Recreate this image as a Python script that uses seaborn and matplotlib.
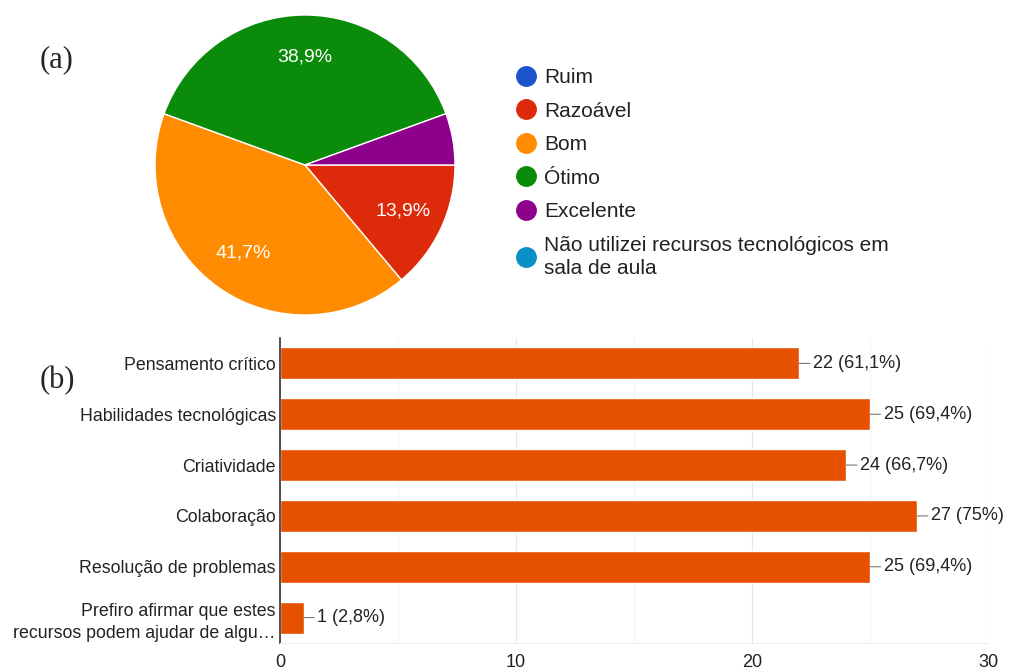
import matplotlib
matplotlib.use("Agg")
import matplotlib.pyplot as plt
from matplotlib.lines import Line2D
import seaborn as sns
import pandas as pd

# pie data (a)
pie_labels = ["Ruim", "Razoável", "Bom", "Ótimo", "Excelente",
              "Não utilizei recursos tecnológicos em\nsala de aula"]
pie_counts = [0, 5, 15, 14, 2, 0]
pie_colors = ["#1a53cc", "#dc2a0a", "#ff8c00", "#0a8c0a", "#8c008c", "#0a90c6"]

# bar data (b)
bar_labels = ["Pensamento crítico", "Habilidades tecnológicas", "Criatividade",
              "Colaboração", "Resolução de problemas",
              "Prefiro afirmar que estes\nrecursos podem ajudar de algu…"]
bar_counts = [22, 25, 24, 27, 25, 1]
bar_pct = ["61,1%", "69,4%", "66,7%", "75%", "69,4%", "2,8%"]
x_ticks = [0, 10, 20, 30]

sns.set_style("white")
plt.rcParams['font.family'] = ['Liberation Sans', 'DejaVu Sans']

W, H = 1009, 671
fig = plt.figure(figsize=(W / 100, H / 100), dpi=100)

# --- pie ---
ax_pie = fig.add_axes([155 / W, (H - 315) / H, 300 / W, 300 / H])
nz = [(c, col) for c, col in zip(pie_counts, pie_colors) if c > 0]
wedges, _, autotexts = ax_pie.pie(
    [c for c, _ in nz], colors=[col for _, col in nz],
    startangle=0, counterclock=False,
    autopct=lambda p: (f"{p:.1f}%".replace(".", ",") if p >= 10 else ""),
    pctdistance=0.72,
    wedgeprops=dict(edgecolor="white", linewidth=1),
    textprops=dict(color="white", fontsize=14))
ax_pie.set_xlim(-1.0, 1.0)
ax_pie.set_ylim(-1.0, 1.0)
ax_pie.set_aspect("equal")

handles = [Line2D([0], [0], marker="o", linestyle="", markersize=14,
                  markerfacecolor=c, markeredgecolor=c) for c in pie_colors]
leg = fig.legend(handles, pie_labels, loc="upper left",
                 bbox_to_anchor=(516 / W, 1 - 68 / H), frameon=False,
                 fontsize=15, labelspacing=0.7, handletextpad=0.35,
                 handlelength=1.0, borderpad=0, borderaxespad=0)
for t in leg.get_texts():
    t.set_color("#222222")
    t.set_linespacing(1.3)

fig.text(40 / W, 1 - 60 / H, "(a)", family="Liberation Serif", fontsize=22,
         va="center", ha="left")
fig.text(40 / W, 1 - 381 / H, "(b)", family="Liberation Serif", fontsize=22,
         va="center", ha="left")

# --- bars ---
ax = fig.add_axes([280 / W, (H - 643) / H, 708 / W, 305 / H])
df = pd.DataFrame({"item": bar_labels, "count": bar_counts})
sns.barplot(data=df, y="item", x="count", color="#e65100", width=0.63,
            saturation=1, ax=ax)
ax.set_xlim(0, 30)
ax.set_ylim(5.5, -0.5)
ax.set_xticks(x_ticks)
ax.set_xticks([5, 15, 25], minor=True)
ax.grid(axis="x", which="major", color="#e6e6e6", lw=0.8)
ax.grid(axis="x", which="minor", color="#f3f3f3", lw=0.8)
ax.set_axisbelow(True)
ax.set_xlabel("")
ax.set_ylabel("")
ax.tick_params(axis="both", length=0)
ax.tick_params(axis="y", pad=3, labelsize=12.8, labelcolor="#222222")
ax.tick_params(axis="x", pad=8, labelsize=13, labelcolor="#222222")
for t in ax.get_yticklabels():
    t.set_linespacing(1.45)
for s in ["top", "right"]:
    ax.spines[s].set_visible(False)
ax.spines["bottom"].set_color("#eeeeee")
ax.spines["left"].set_color("#333333")
ax.spines["left"].set_linewidth(1.2)

for i, (v, p) in enumerate(zip(bar_counts, bar_pct)):
    ax.annotate(f"{v} ({p})", xy=(v, i), xytext=(10, 0),
                textcoords="offset points", ha="left", va="center",
                fontsize=13, color="#222222",
                arrowprops=dict(arrowstyle="-", color="#777777", lw=0.8,
                                shrinkA=0, shrinkB=0))

fig.savefig("out.png", dpi=100)
